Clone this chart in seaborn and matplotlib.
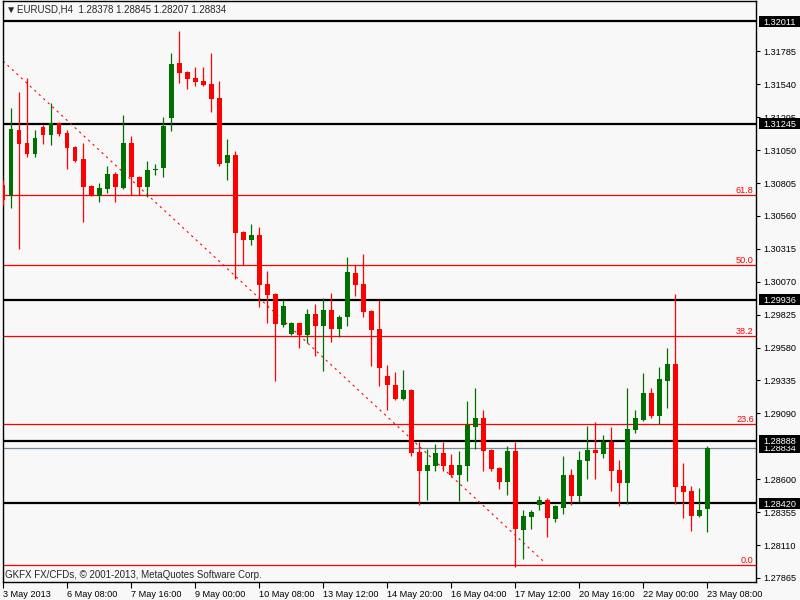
import numpy as np
import pandas as pd
import matplotlib
matplotlib.use('Agg')
import matplotlib.pyplot as plt
from matplotlib.patches import Rectangle
import seaborn as sns

# EURUSD H4 candles
opens = [1.30790, 1.30708, 1.31199, 1.31103, 1.31021, 1.31222, 1.31162, 1.31252, 1.31177, 1.31073,
         1.30984, 1.30783, 1.30708, 1.30760, 1.30872, 1.30768, 1.31103, 1.30850, 1.30775, 1.30899,
         1.30917, 1.31289, 1.31698, 1.31631, 1.31586, 1.31564, 1.31542, 1.31438, 1.30954, 1.31013,
         1.30440, 1.30381, 1.30418, 1.30053, 1.29979, 1.29748, 1.29682, 1.29763, 1.29674, 1.29830,
         1.29741, 1.29859, 1.29719, 1.29808, 1.30135, 1.30053, 1.29852, 1.29719, 1.29368, 1.29301,
         1.29197, 1.29264, 1.28803, 1.28661, 1.28698, 1.28795, 1.28706, 1.28631, 1.28698, 1.28989,
         1.29054, 1.28817, 1.28684, 1.28579, 1.28810, 1.28222, 1.28319, 1.28405, 1.28445, 1.28304,
         1.28386, 1.28631, 1.28475, 1.28736, 1.28817, 1.28788, 1.28877, 1.28669, 1.28571, 1.28967,
         1.29041, 1.29242, 1.29070, 1.29331, 1.29459, 1.28550, 1.28512, 1.28326, 1.28378]
highs = [1.30827, 1.31363, 1.31482, 1.31586, 1.31199, 1.31237, 1.31400, 1.31259, 1.31199, 1.31080,
         1.31103, 1.30790, 1.30805, 1.30931, 1.30887, 1.31311, 1.31155, 1.30857, 1.30969, 1.30946,
         1.31296, 1.31773, 1.31936, 1.31639, 1.31668, 1.31668, 1.31773, 1.31564, 1.31133, 1.31043,
         1.30448, 1.30500, 1.30477, 1.30150, 1.29986, 1.29934, 1.29770, 1.29766, 1.29867, 1.29904,
         1.29949, 1.29986, 1.29823, 1.30256, 1.30194, 1.30277, 1.29859, 1.29934, 1.29450, 1.29399,
         1.29413, 1.29272, 1.28877, 1.28825, 1.28862, 1.28877, 1.28788, 1.28810, 1.29184, 1.29279,
         1.29115, 1.28825, 1.28690, 1.28846, 1.28877, 1.28370, 1.28370, 1.28475, 1.28460, 1.28405,
         1.28773, 1.28676, 1.28810, 1.28996, 1.29026, 1.28930, 1.28989, 1.28743, 1.29282, 1.29115,
         1.29388, 1.29279, 1.29435, 1.29577, 1.29979, 1.28722, 1.28550, 1.28535, 1.28845]
lows = [1.30641, 1.30619, 1.30314, 1.30998, 1.30998, 1.31095, 1.31088, 1.31155, 1.30909, 1.30961,
        1.30515, 1.30708, 1.30663, 1.30731, 1.30663, 1.30760, 1.30716, 1.30716, 1.30701, 1.30865,
        1.30850, 1.31192, 1.31549, 1.31505, 1.31527, 1.31527, 1.31333, 1.30931, 1.30827, 1.30090,
        1.30194, 1.30344, 1.29882, 1.29763, 1.29331, 1.29733, 1.29674, 1.29577, 1.29612, 1.29516,
        1.29405, 1.29620, 1.29659, 1.29741, 1.29961, 1.29808, 1.29446, 1.29294, 1.29115, 1.29189,
        1.29189, 1.28773, 1.28408, 1.28445, 1.28661, 1.28661, 1.28617, 1.28438, 1.28588, 1.28825,
        1.28661, 1.28661, 1.28531, 1.28479, 1.27944, 1.28006, 1.28229, 1.28370, 1.28170, 1.28282,
        1.28341, 1.28405, 1.28430, 1.28603, 1.28603, 1.28758, 1.28512, 1.28398, 1.28415, 1.28945,
        1.29034, 1.29056, 1.29011, 1.29130, 1.28415, 1.28311, 1.28215, 1.28320, 1.28207]
closes = [1.30678, 1.31207, 1.31095, 1.31021, 1.31140, 1.31162, 1.31252, 1.31170, 1.31065, 1.30969,
          1.30775, 1.30716, 1.30768, 1.30872, 1.30775, 1.31103, 1.30850, 1.30775, 1.30902, 1.30909,
          1.31229, 1.31691, 1.31624, 1.31579, 1.31557, 1.31534, 1.31430, 1.30946, 1.31013, 1.30433,
          1.30381, 1.30418, 1.30046, 1.29971, 1.29756, 1.29889, 1.29763, 1.29674, 1.29830, 1.29741,
          1.29859, 1.29719, 1.29808, 1.30142, 1.30046, 1.29845, 1.29711, 1.29428, 1.29301, 1.29197,
          1.29264, 1.28795, 1.28661, 1.28706, 1.28795, 1.28698, 1.28631, 1.28706, 1.29005, 1.29054,
          1.28810, 1.28676, 1.28579, 1.28810, 1.28229, 1.28326, 1.28358, 1.28445, 1.28311, 1.28398,
          1.28631, 1.28475, 1.28743, 1.28817, 1.28795, 1.28877, 1.28661, 1.28571, 1.28975, 1.29054,
          1.29242, 1.29070, 1.29346, 1.29459, 1.28542, 1.28505, 1.28326, 1.28370, 1.28834]

date_labels = ['3 May 2013', '6 May 08:00', '7 May 16:00', '9 May 00:00', '10 May 08:00',
               '13 May 12:00', '14 May 20:00', '16 May 04:00', '17 May 12:00', '20 May 16:00',
               '22 May 00:00', '23 May 08:00']
date_bars = [0, 8, 16, 24, 32, 40, 48, 56, 64, 72, 80, 88]

price_ticks = [1.27865, 1.28110, 1.28355, 1.28600, 1.29090, 1.29335, 1.29580, 1.29825,
               1.30070, 1.30315, 1.30560, 1.30805, 1.31050, 1.31295, 1.31540, 1.31785]

# support / resistance lines (black) and bid line (grey)
level_lines = [1.32011, 1.31245, 1.29936, 1.28420, 1.28888]
bid_price = 1.28834

# fibonacci retracement levels
fib_names = ['0.0', '23.6', '38.2', '50.0', '61.8']
fib_prices = [1.27962, 1.29011, 1.29666, 1.30194, 1.30716]

# dashed trend line (bar index, price)
trend_bars = [0, 67.75]
trend_prices = [1.31713, 1.27977]

GREEN = '#007000'
RED = '#ff0000'
BG = '#f8f8f8'
FS = 6.6

sns.set_theme(style='white')
plt.rcParams['font.family'] = ['Liberation Sans Narrow', 'Liberation Sans', 'DejaVu Sans']
plt.rcParams['font.size'] = FS

df = pd.DataFrame({'open': opens, 'high': highs, 'low': lows, 'close': closes})
df['bar'] = np.arange(len(df))
df['color'] = np.where(df['close'] >= df['open'], GREEN, RED)
df['bottom'] = df[['open', 'close']].min(axis=1)
df['height'] = (df['close'] - df['open']).abs().clip(lower=0.00008)

fig = plt.figure(figsize=(8, 6), dpi=100, facecolor=BG)
ax = fig.add_axes([3 / 800, 18 / 600, 753 / 800, 581 / 600])
ax.set_facecolor(BG)

# horizontal lines
for p in fib_prices:
    ax.axhline(p, color=RED, lw=0.9, zorder=1)
for p in level_lines:
    ax.axhline(p, color='black', lw=1.6, zorder=1)
ax.axhline(bid_price, color='#778899', lw=0.9, zorder=1)

# trend line
sns.lineplot(x=trend_bars, y=trend_prices, ax=ax, color=RED, lw=0.8,
             linestyle=(0, (2, 3.5)), zorder=2)

# candles
ax.vlines(df['bar'], df['low'], df['high'], colors=df['color'], lw=0.9, zorder=3)
ax.bar(df['bar'], df['height'], bottom=df['bottom'], width=0.62, color=df['color'],
       linewidth=0, zorder=4)

ax.set_xlim(0, 94.1)
ax.set_ylim(1.27835, 1.32160)

# y axis on the right
ax.yaxis.tick_right()
ax.set_yticks(price_ticks)
ax.set_yticklabels(['%.5f' % t for t in price_ticks])
ax.tick_params(axis='y', length=3, width=0.8, pad=2.5, labelsize=FS, colors='black',
               direction='out', left=False, right=True)
ax.set_xticks(date_bars)
ax.set_xticklabels(date_labels, ha='left')
ax.tick_params(axis='x', length=4, width=0.8, pad=2, labelsize=FS, colors='black',
               direction='out', bottom=True)
ax.grid(False)
for side in ['left', 'bottom', 'right', 'top']:
    ax.spines[side].set_color('black')
    ax.spines[side].set_linewidth(1)

ytr = ax.get_yaxis_transform()
# fib labels
for name, p in zip(fib_names, fib_prices):
    ax.text(0.997, p + 0.00003, name, transform=ytr, ha='right', va='bottom',
            color=RED, fontsize=FS)

# price boxes on the axis (bid first so the 1.28888 box sits on top)
box_w = 42 / 753
box_h = 11 * (1.32160 - 1.27835) / 581
for i, p in enumerate([bid_price] + level_lines):
    ax.add_patch(Rectangle((1.0 + 3 / 753, p - box_h / 2), box_w, box_h, transform=ytr,
                           facecolor='black', edgecolor='none', clip_on=False, zorder=10 + 2 * i))
    ax.text(1.0 + 7 / 753, p, '%.5f' % p, transform=ytr, ha='left', va='center_baseline',
            color='white', fontsize=FS, clip_on=False, zorder=11 + 2 * i)

# header and footer
fig.text(6 / 800, 1 - 10 / 600, '\u25bc', fontsize=7.5, va='center', ha='left')
fig.text(17 / 800, 1 - 10 / 600, 'EURUSD,H4  1.28378 1.28845 1.28207 1.28834',
         fontsize=FS + 0.4, va='center', ha='left')
fig.text(5 / 800, 1 - 575 / 600, 'GKFX FX/CFDs, \u00a9 2001-2013, MetaQuotes Software Corp.',
         fontsize=FS + 0.4, va='center', ha='left')

fig.savefig('out.png', dpi=100, facecolor=BG)
